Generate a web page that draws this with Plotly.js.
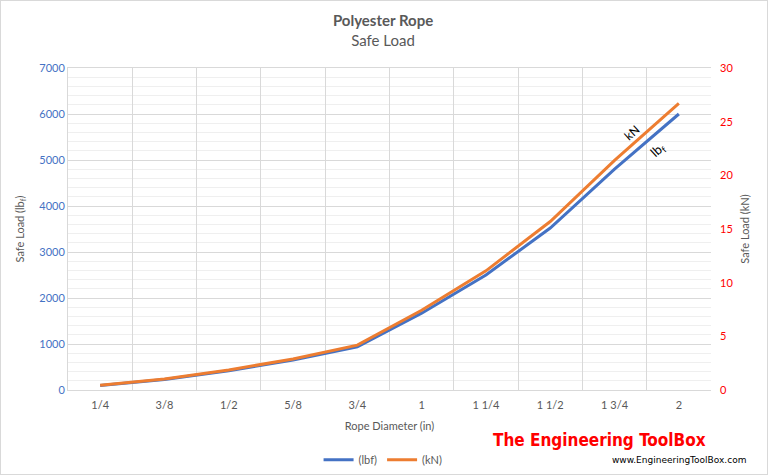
<!DOCTYPE html>
<html>
<head>
<meta charset="utf-8">
<script src="https://cdn.plot.ly/plotly-3.0.1.min.js"></script>
<style>
  html, body { margin: 0; padding: 0; background: #fff; }
  #chart { width: 768px; height: 475px; box-sizing: border-box; border: 1px solid #d9d9d9; }
</style>
</head>
<body>
<div id="chart"></div>
<script>
// ----- data -----
const diameters = ["1/4", "3/8", "1/2", "5/8", "3/4", "1", "1 1/4", "1 1/2", "1 3/4", "2"];
const loadLbf   = [100, 230, 420, 650, 940, 1670, 2500, 3520, 4800, 6000];
const loadKN    = [0.44, 1.02, 1.87, 2.89, 4.18, 7.43, 11.1, 15.7, 21.4, 26.7];

const GRAY = "#595959";
const FONT = "Lato, 'Open Sans', sans-serif";

const traces = [
  {
    name: "(lbf)", type: "scatter", mode: "lines",
    x: diameters, y: loadLbf, yaxis: "y",
    line: { color: "#4472c4", width: 3 }
  },
  {
    name: "(kN)", type: "scatter", mode: "lines",
    x: diameters, y: loadKN, yaxis: "y2",
    line: { color: "#ed7d31", width: 3 }
  }
];

// small helper: annotation centred on its point
function note(x, y, text, font, angle) {
  return { xref: "paper", yref: "paper", x, y, text, showarrow: false,
           xanchor: "center", yanchor: "middle", textangle: angle || 0, font };
}

const layout = {
  width: 766, height: 473,
  margin: { l: 67, r: 56, t: 67, b: 84 },
  paper_bgcolor: "#fff", plot_bgcolor: "#fff",
  font: { family: FONT, color: GRAY, size: 11 },
  title: {
    text: "<b>Polyester Rope</b><br>Safe Load",
    xref: "paper", x: 0.49, xanchor: "center",
    yref: "container", y: 0.947, yanchor: "top",
    font: { family: FONT, size: 15, color: GRAY }
  },
  showlegend: true,
  legend: {
    orientation: "h", x: 0.49, xanchor: "center",
    yref: "container", y: 0.03, yanchor: "middle",
    font: { size: 11, color: GRAY }
  },
  xaxis: {
    type: "category", range: [-0.5, 9.5], automargin: false,
    tickson: "boundaries", ticks: "", ticklabelstandoff: 5,
    showgrid: true, gridcolor: "#d9d9d9",
    showline: true, linecolor: "#d9d9d9", mirror: true,
    tickfont: { size: 11, color: GRAY },
    title: { text: "Rope Diameter (in)", font: { size: 11, color: GRAY }, standoff: 12 }
  },
  yaxis: {
    range: [0, 7000], dtick: 1000, ticks: "", automargin: false,
    showgrid: true, gridcolor: "#d9d9d9", zeroline: false,
    minor: { dtick: 200, showgrid: true, gridcolor: "#efefef" },
    showline: true, linecolor: "#d9d9d9",
    tickfont: { size: 11, color: "#4472c4" },
    title: { text: "Safe Load (lb<sub>f</sub>)", font: { size: 11, color: GRAY }, standoff: 12 }
  },
  yaxis2: {
    overlaying: "y", side: "right", automargin: false,
    range: [0, 30], dtick: 5, ticks: "", ticklabelstandoff: 8,
    showgrid: false, zeroline: false,
    tickfont: { size: 11, color: "#ff0000" },
    title: { text: "Safe Load (kN)", font: { size: 11, color: GRAY }, standoff: 8 }
  },
  annotations: [
    note(0.877, 0.8, "kN", { size: 12, color: "#000" }, -42),
    note(0.918, 0.745, "lb<sub>f</sub>", { size: 13, color: "#000" }, -42),
    note(0.826, -0.155, "The Engineering ToolBox",
         { family: "'Liberation Sans Narrow', 'DejaVu Sans Condensed', sans-serif", size: 17, color: "#ff0000", weight: 700 }),
    note(0.951, -0.217, "www.EngineeringToolBox.com",
         { family: "'DejaVu Sans', sans-serif", size: 9, color: "#000" })
  ]
};

Plotly.newPlot("chart", traces, layout, { displayModeBar: false, staticPlot: true });
</script>
</body>
</html>
